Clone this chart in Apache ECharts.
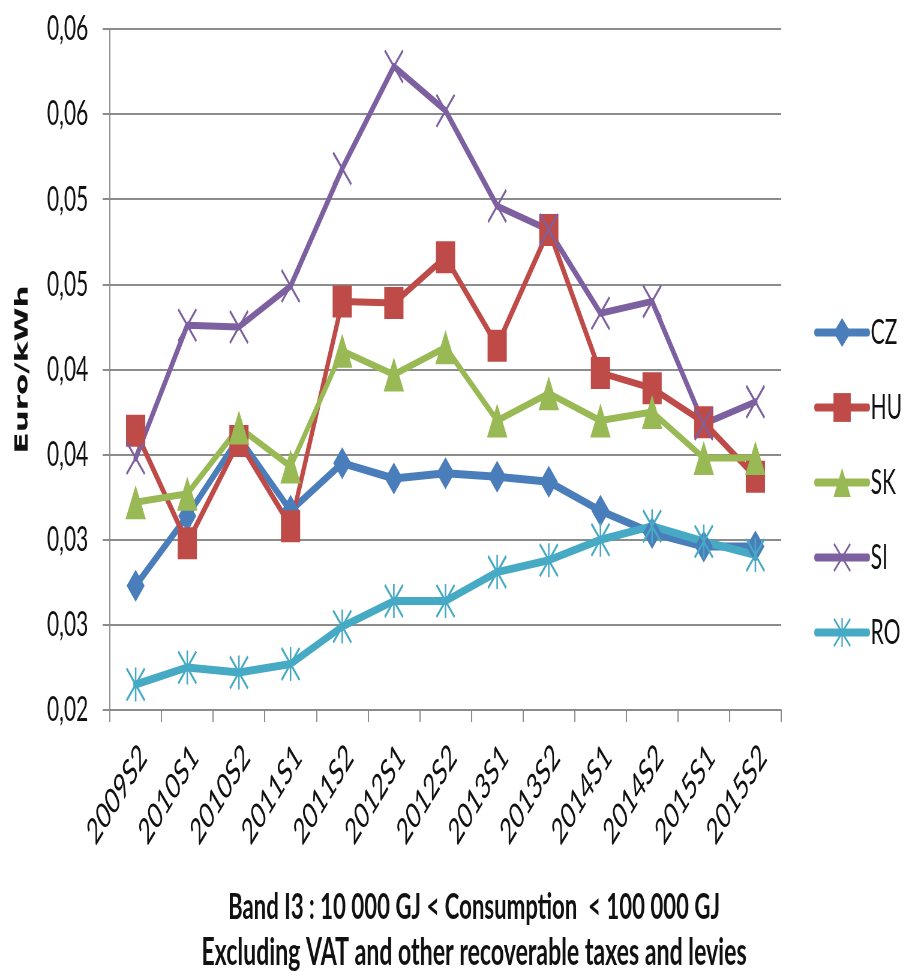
<!DOCTYPE html>
<html>
<head>
<meta charset="utf-8">
<script src="https://cdn.jsdelivr.net/npm/echarts@6/dist/echarts.min.js"></script>
<style>
  html, body { margin: 0; padding: 0; background: #fff; overflow: hidden; }
  #wrap { width: 904px; height: 972px; overflow: hidden; position: relative; background: #fff; }
  #chart { width: 1507px; height: 972px; transform: scaleX(0.6); transform-origin: 0 0; }
</style>
</head>
<body>
<div id="wrap"><div id="chart"></div></div>
<script>
// ---- data ----
const categories = ['2009S2','2010S1','2010S2','2011S1','2011S2','2012S1','2012S2','2013S1','2013S2','2014S1','2014S2','2015S1','2015S2'];
const CZ = [0.0273, 0.0314, 0.0360, 0.0317, 0.0345, 0.0336, 0.0339, 0.0337, 0.0334, 0.0317, 0.0304, 0.0296, 0.0296];
const HU = [0.0364, 0.0298, 0.0358, 0.0308, 0.0440, 0.0439, 0.0466, 0.0414, 0.0482, 0.0398, 0.0389, 0.0369, 0.0337];
const SK = [0.0322, 0.0327, 0.0366, 0.0343, 0.0411, 0.0397, 0.0413, 0.0370, 0.0386, 0.0370, 0.0375, 0.0348, 0.0348];
const SI = [0.0348, 0.0426, 0.0425, 0.0449, 0.0518, 0.0578, 0.0552, 0.0496, 0.0482, 0.0433, 0.0440, 0.0368, 0.0381];
const RO = [0.0215, 0.0225, 0.0222, 0.0227, 0.0249, 0.0264, 0.0264, 0.0281, 0.0288, 0.0300, 0.0308, 0.0299, 0.0291];
const yTickLabels = ['0,02','0,03','0,03','0,04','0,04','0,05','0,05','0,06','0,06'];
const yName = 'Euro/kWh';
const titleLine1 = 'Band I3 : 10 000 GJ < Consumption  < 100 000 GJ';
const titleLine2 = 'Excluding VAT and other recoverable taxes and levies';

const colors = { CZ: '#4A7EBB', HU: '#BE4B48', SK: '#98B954', SI: '#7D60A0', RO: '#46AAC5' };
const xPath = 'path://M0,0.6L0.6,0L10,9.4L9.4,10ZM9.4,0L10,0.6L0.6,10L0,9.4Z';
const starPath = 'path://M0,0.6L0.6,0L10,9.4L9.4,10ZM9.4,0L10,0.6L0.6,10L0,9.4ZM4.6,0L5.4,0L5.4,10L4.6,10Z';

const gray = '#8c8c8c';
const font = 'Lato, "Open Sans", sans-serif';

function mk(name, data, symbol, size, width) {
  return {
    name, type: 'line', data, symbol, symbolSize: size,
    showSymbol: true,
    lineStyle: { color: colors[name], width: width, cap: 'round', join: 'round' },
    itemStyle: { color: colors[name] },
    emphasis: { disabled: true },
    animation: false
  };
}

const chart = echarts.init(document.getElementById('chart'));
chart.setOption({
  backgroundColor: '#fff',
  animation: false,
  title: [
    { text: titleLine1, left: 790, top: 889, textAlign: 'center', padding: 0,
      textStyle: { fontFamily: font, fontSize: 37, fontWeight: 'bold', color: '#111' } },
    { text: titleLine2, left: 790, top: 933, textAlign: 'center', padding: 0,
      textStyle: { fontFamily: font, fontSize: 38.5, fontWeight: 'bold', color: '#111' } }
  ],
  legend: {
    orient: 'vertical', left: 1352, top: 310,
    itemWidth: 85, itemHeight: 36, itemGap: 40,
    lineStyle: { width: 8 },
    textStyle: { fontFamily: font, fontSize: 35, color: '#111' },
    data: ['CZ','HU','SK','SI','RO']
  },
  grid: { left: 183, right: 205, top: 29, bottom: 262, containLabel: false },
  xAxis: {
    type: 'category', data: categories, boundaryGap: true,
    axisLine: { lineStyle: { color: gray, width: 2 } },
    axisTick: { show: true, length: 12, lineStyle: { color: gray, width: 2 } },
    axisLabel: { rotate: 45, margin: 28, verticalAlign: 'top', fontFamily: font, fontSize: 36, color: '#111', interval: 0 }
  },
  yAxis: {
    type: 'value', min: 0.02, max: 0.06, interval: 0.005,
    name: yName, nameLocation: 'middle', nameRotate: 90, nameGap: 130,
    nameTextStyle: { fontFamily: '"DejaVu Sans", sans-serif', fontWeight: 'bold', fontSize: 31, color: '#111' },
    axisLine: { show: true, lineStyle: { color: gray, width: 2 } },
    axisTick: { show: true, length: 12, lineStyle: { color: gray, width: 2 } },
    splitLine: { show: true, lineStyle: { color: gray, width: 2 } },
    axisLabel: {
      margin: 36, fontFamily: font, fontSize: 35, color: '#111',
      formatter: v => yTickLabels[Math.round((v - 0.02) / 0.005)]
    }
  },
  series: [
    mk('CZ', CZ, 'diamond', [30, 32], 8),
    mk('HU', HU, 'rect', [32, 32], 7),
    mk('SK', SK, 'triangle', [34, 34], 7),
    mk('SI', SI, xPath, [32, 34], 7),
    mk('RO', RO, starPath, [32, 34], 8)
  ]
});
</script>
</body>
</html>
